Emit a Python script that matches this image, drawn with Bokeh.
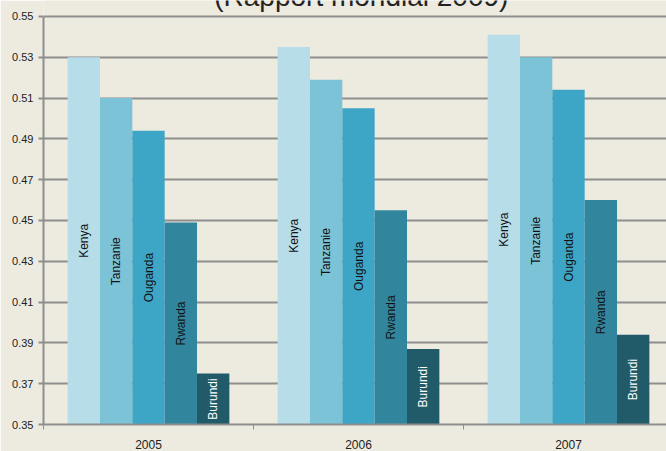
import math
from bokeh.plotting import figure
from bokeh.models import ColumnDataSource, FixedTicker, Range1d
from bokeh.core.properties import value
from bokeh.embed import file_html
from bokeh.resources import INLINE

years = ["2005", "2006", "2007"]
countries = ["Kenya", "Tanzanie", "Ouganda", "Rwanda", "Burundi"]
kenya = [0.530, 0.535, 0.541]
tanzanie = [0.510, 0.519, 0.530]
ouganda = [0.494, 0.505, 0.514]
rwanda = [0.449, 0.455, 0.460]
burundi = [0.375, 0.387, 0.394]
y_ticks = [0.35, 0.37, 0.39, 0.41, 0.43, 0.45, 0.47, 0.49, 0.51, 0.53, 0.55]
title_text = "(Rapport mondial 2009)"

series = [kenya, tanzanie, ouganda, rwanda, burundi]
colors = ["#B7DDE8", "#7DC3D8", "#3DA6C6", "#31869E", "#215A68"]
text_colors = ["#111111", "#111111", "#111111", "#111111", "#FFFFFF"]

bw = 0.154
xs, tops, fills, names, mids, tcols = [], [], [], [], [], []
for ci, vals in enumerate(series):
    for yi, v in enumerate(vals):
        xs.append(yi + 0.5 + (ci - 2) * bw)
        tops.append(v)
        fills.append(colors[ci])
        names.append(countries[ci])
        mids.append((v + y_ticks[0]) / 2)
        tcols.append(text_colors[ci])

src = ColumnDataSource(dict(x=xs, top=tops, fill=fills, name=names, mid=mids, tcol=tcols))

W, H = 666, 451
left_b = 43
bottom_b = 24
top_gap = 16  # pixels between canvas top and the top gridline
frame_w = W - left_b
cat_px = 210
px_per_unit = (H - bottom_b - top_gap) / (y_ticks[-1] - y_ticks[0])
y_end = y_ticks[-1] + top_gap / px_per_unit

p = figure(width=W, height=H, output_backend="svg", toolbar_location=None,
           x_range=Range1d(0, frame_w / cat_px), y_range=Range1d(y_ticks[0], y_end),
           min_border_left=left_b, min_border_right=0, min_border_top=0,
           min_border_bottom=bottom_b)
bg = "#EDEAE0"
p.background_fill_color = bg
p.border_fill_color = bg
p.outline_line_color = None

p.vbar(x="x", top="top", bottom=y_ticks[0], width=bw, source=src,
       fill_color="fill", line_color=None)
p.text(x="x", y="mid", text="name", source=src, angle=math.pi / 2,
       text_align="center", text_baseline="middle", text_color="tcol",
       text_font=value("Liberation Sans"), text_font_size="12px")

# title (only its lower part is visible at the top edge, as in the reference)
p.text(x=[frame_w / cat_px / 2 + 0.03], y=[y_ticks[-1] + 20 / px_per_unit], text=[title_text],
       text_align="center", text_baseline="alphabetic", text_color="#222222",
       text_font=value("Liberation Sans"), text_font_size="28px")

grid_c = "#8E8E8E"
p.xgrid.grid_line_color = None
p.ygrid.grid_line_color = grid_c
p.ygrid.grid_line_width = 2
p.ygrid.ticker = FixedTicker(ticks=y_ticks)

ya = p.yaxis[0]
ya.ticker = FixedTicker(ticks=y_ticks, minor_ticks=[])
ya.bounds = (y_ticks[0], y_ticks[-1])
ya.major_label_overrides = {t: f"{t:.2f}" for t in y_ticks}
ya.axis_line_color = grid_c
ya.axis_line_width = 2
ya.major_tick_line_color = grid_c
ya.major_tick_line_width = 2
ya.major_tick_in = 0
ya.major_tick_out = 5
ya.minor_tick_line_color = None
ya.major_label_standoff = 5
ya.major_label_text_font = "Liberation Sans"
ya.major_label_text_font_size = "11px"
ya.major_label_text_color = "#222222"

xa = p.xaxis[0]
centers = [i + 0.5 for i in range(len(years))]
xa.ticker = FixedTicker(ticks=centers, minor_ticks=list(range(len(years) + 1)))
xa.major_label_overrides = {c: y for c, y in zip(centers, years)}
xa.axis_line_color = grid_c
xa.axis_line_width = 2
xa.major_tick_line_color = None
xa.major_tick_in = 0
xa.major_tick_out = 0
xa.minor_tick_line_color = grid_c
xa.minor_tick_line_width = 1
xa.minor_tick_in = 0
xa.minor_tick_out = 5
xa.major_label_standoff = 10
xa.major_label_text_font = "Liberation Sans"
xa.major_label_text_font_size = "12px"
xa.major_label_text_color = "#222222"

open("out.html", "w").write(file_html(p, INLINE))
